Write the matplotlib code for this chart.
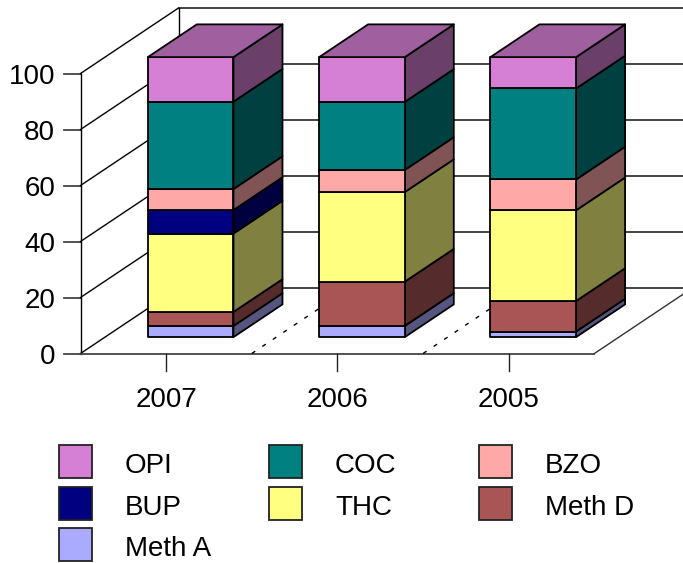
import matplotlib
matplotlib.use('Agg')
import matplotlib.pyplot as plt
from matplotlib.patches import Polygon, Rectangle

plt.rcParams['font.family'] = ['Liberation Sans', 'DejaVu Sans']

years = ['2007', '2006', '2005']
y_ticks = [0, 20, 40, 60, 80, 100]

# stack order, bottom to top
drugs = ['Meth A', 'Meth D', 'THC', 'BUP', 'BZO', 'COC', 'OPI']
meth_a = [4.0, 4.0, 2.0]
meth_d = [5.0, 15.8, 10.9]
thc = [28.0, 32.0, 32.4]
bup = [8.4, 0.0, 0.0]
bzo = [7.5, 7.9, 11.0]
coc = [31.2, 24.3, 32.5]
opi = [15.9, 16.0, 11.2]
series = [meth_a, meth_d, thc, bup, bzo, coc, opi]

colors = {
    'OPI': '#D580D5', 'COC': '#008080', 'BZO': '#FFA8A8', 'BUP': '#000080',
    'THC': '#FFFF80', 'Meth D': '#AA5555', 'Meth A': '#AAAAFF',
}
side_colors = {
    'OPI': '#6A406A', 'COC': '#004040', 'BZO': '#805454', 'BUP': '#000040',
    'THC': '#808040', 'Meth D': '#552B2B', 'Meth A': '#555580',
}
top_color = '#A060A0'

legend_rows = [['OPI', 'COC', 'BZO'], ['BUP', 'THC', 'Meth D'], ['Meth A']]

# oblique projection: category, percent, depth -> canvas pixels
X0, Y0 = 80.5, 353.5
CAT_W, PCT_H = 171.3, 2.8
DEPTH_X, DEPTH_Y = 98.0, 65.5
LW = 1.3
FONT = 20


def proj(x, y, d=0.0):
    return (X0 + CAT_W * x + DEPTH_X * d, Y0 - PCT_H * y - DEPTH_Y * d)


def face(ax, pts, color):
    ax.add_patch(Polygon(pts, closed=True, facecolor=color, edgecolor='black',
                         linewidth=LW, joinstyle='round', zorder=3))


def draw_walls(ax):
    n = len(years)
    for v in y_ticks:
        # tick, side wall, back wall
        ax.plot([64, X0], [proj(0, v)[1]] * 2, color='#444444', lw=LW, zorder=1)
        ax.plot(*zip(proj(0, v), proj(0, v, 1)), color='black', lw=1.0, zorder=1)
        ax.plot(*zip(proj(0, v, 1), proj(n, v, 1)), color='#222222', lw=1.2, zorder=1)
    ax.plot(*zip(proj(0, 0), proj(0, 100)), color='black', lw=1.0, zorder=1)
    ax.plot(*zip(proj(0, 0, 1), proj(0, 100, 1)), color='black', lw=1.0, zorder=1)
    ax.plot(*zip(proj(0, 0), proj(n, 0)), color='#444444', lw=LW, zorder=1)
    ax.plot(*zip(proj(n, 0), proj(n, 0, 1)), color='#333333', lw=1.0, zorder=1)
    # dashed category lines on the floor
    for i in range(1, n):
        ax.plot(*zip(proj(i, 0), proj(i, 0, 1)), color='black', lw=1.0,
                dashes=(3, 6.1), zorder=1)
    for i in range(n):
        x, y = proj(i + 0.5, 0)
        ax.plot([x, x], [y, y + 17], color='#222222', lw=1.0, zorder=1)


def draw_bars(ax):
    d0, d1 = 0.25, 0.75
    for i in range(len(years)):
        x0, x1 = i + 0.25, i + 0.75
        base = 0.0
        for name, vals in zip(drugs, series):
            if vals[i] == 0:
                continue
            top = base + vals[i]
            face(ax, [proj(x1, base, d0), proj(x1, base, d1),
                      proj(x1, top, d1), proj(x1, top, d0)], side_colors[name])
            face(ax, [proj(x0, base, d0), proj(x1, base, d0),
                      proj(x1, top, d0), proj(x0, top, d0)], colors[name])
            base = top
        face(ax, [proj(x0, base, d0), proj(x1, base, d0),
                  proj(x1, base, d1), proj(x0, base, d1)], top_color)


def draw_labels(ax):
    for v in y_ticks:
        ax.text(55, proj(0, v)[1], str(v), ha='right', va='center_baseline', fontsize=FONT)
    for i, year in enumerate(years):
        ax.text(proj(i + 0.5, 0)[0], 397, year, ha='center', va='center_baseline', fontsize=FONT)


def draw_legend(ax):
    col_x = [58.5, 268.5, 478.5]
    row_y = [445, 487, 528]
    for r, row in enumerate(legend_rows):
        for c, name in enumerate(row):
            ax.add_patch(Rectangle((col_x[c], row_y[r]), 33.5, 33, facecolor=colors[name],
                                   edgecolor='#222222', linewidth=LW, zorder=3))
            ax.text(col_x[c] + 66.5, row_y[r] + 18, name, ha='left',
                    va='center_baseline', fontsize=FONT)


fig = plt.figure(figsize=(6.83, 5.63), dpi=100)
ax = fig.add_axes([0, 0, 1, 1])
ax.set_xlim(0, 683)
ax.set_ylim(563, 0)
ax.axis('off')

draw_walls(ax)
draw_bars(ax)
draw_labels(ax)
draw_legend(ax)

fig.savefig('out.png', dpi=100)
